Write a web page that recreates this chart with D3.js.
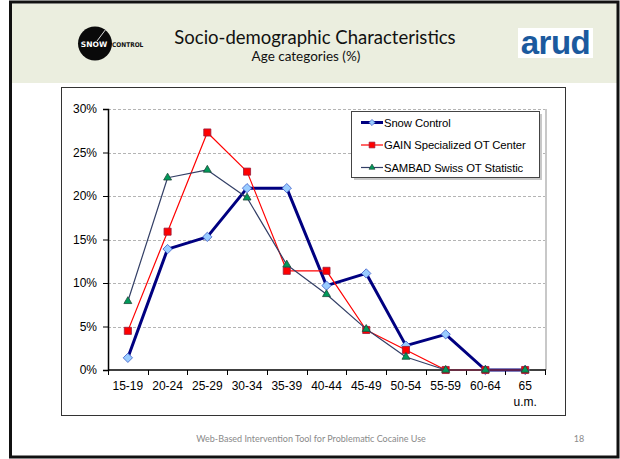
<!DOCTYPE html>
<html>
<head>
<meta charset="utf-8">
<script src="https://cdn.jsdelivr.net/npm/d3@7"></script>
<style>
  html, body { margin: 0; padding: 0; background: #fff; }
  svg { display: block; }
</style>
</head>
<body>
<script>
// Age groups on the x axis ("65 u.m." wraps onto two lines)
const categories = ["15-19", "20-24", "25-29", "30-34", "35-39", "40-44",
                    "45-49", "50-54", "55-59", "60-64", "65 u.m."];

// Share of each age group (%)
const snowControl = [1.4, 13.9, 15.3, 20.9, 20.9, 9.7, 11.1, 2.8, 4.1, 0, 0];
const gainCenter  = [4.5, 15.9, 27.3, 22.8, 11.4, 11.4, 4.6, 2.3, 0, 0, 0];
const sambad      = [7.9, 22.1, 23.0, 19.8, 12.1, 8.7, 4.7, 1.5, 0, 0, 0];

const seriesNames = ["Snow Control", "GAIN Specialized OT Center", "SAMBAD Swiss OT Statistic"];
const yTicks = [0, 5, 10, 15, 20, 25, 30];

const W = 620, H = 459;
const svg = d3.select("body").append("svg").attr("width", W).attr("height", H);

// slide frame and header band
svg.append("rect").attr("x", 0).attr("y", 0).attr("width", W).attr("height", H).attr("fill", "#fff");
svg.append("rect").attr("x", 12).attr("y", 3.5).attr("width", 605).attr("height", 79.5).attr("fill", "#ebeedf");
svg.append("rect").attr("x", 10.5).attr("y", 2).attr("width", 607.5).attr("height", 455)
  .attr("fill", "none").attr("stroke", "#111").attr("stroke-width", 3);

// title block
svg.append("text").attr("x", 315).attr("y", 44).attr("text-anchor", "middle")
  .attr("font-family", "Lato, 'Open Sans', sans-serif").attr("font-size", 18.5).attr("fill", "#111")
  .text("Socio-demographic Characteristics");
svg.append("text").attr("x", 306).attr("y", 61).attr("text-anchor", "middle")
  .attr("font-family", "Lato, 'Open Sans', sans-serif").attr("font-size", 13.5).attr("fill", "#111")
  .text("Age categories (%)");

// Snow Control logo
const logo = svg.append("g");
logo.append("circle").attr("cx", 95).attr("cy", 43.5).attr("r", 17).attr("fill", "#0a0a0a");
logo.append("line").attr("x1", 106).attr("y1", 29).attr("x2", 97).attr("y2", 41)
  .attr("stroke", "#ddd").attr("stroke-width", 1);
logo.append("text").attr("x", 94).attr("y", 46.5).attr("text-anchor", "middle")
  .attr("font-family", "'DejaVu Sans', sans-serif").attr("font-weight", "bold")
  .attr("font-size", 7.5).attr("fill", "#fff").text("SNOW");
logo.append("text").attr("x", 112).attr("y", 46.5)
  .attr("font-family", "'DejaVu Sans Condensed', 'DejaVu Sans', sans-serif").attr("font-weight", "bold")
  .attr("font-size", 6.5).attr("fill", "#111").text("CONTROL");

// arud logo
svg.append("rect").attr("x", 518).attr("y", 28).attr("width", 75).attr("height", 30).attr("fill", "#fff");
svg.append("text").attr("x", 555.5).attr("y", 54).attr("text-anchor", "middle")
  .attr("font-family", "'Liberation Sans', Arial, sans-serif").attr("font-weight", "bold")
  .attr("font-size", 33).attr("letter-spacing", -0.5).attr("fill", "#1b5a9e").text("arud");

// chart box
svg.append("rect").attr("x", 61.5).attr("y", 87.5).attr("width", 504).attr("height", 328)
  .attr("fill", "#fff").attr("stroke", "#333").attr("stroke-width", 1);

// footer
svg.append("text").attr("x", 311).attr("y", 442).attr("text-anchor", "middle")
  .attr("font-family", "Lato, 'Open Sans', sans-serif").attr("font-size", 9).attr("fill", "#8a8a8a")
  .text("Web-Based Intervention Tool for Problematic Cocaine Use");
svg.append("text").attr("x", 579).attr("y", 442).attr("text-anchor", "middle")
  .attr("font-family", "Lato, 'Open Sans', sans-serif").attr("font-size", 9).attr("fill", "#8a8a8a")
  .text("18");

// plot area
const plot = { left: 108, right: 545, top: 109, bottom: 370 };
const x = d3.scaleBand().domain(categories).range([plot.left, plot.right]);
const y = d3.scaleLinear().domain([0, 30]).range([plot.bottom, plot.top]);
const cx = c => x(c) + x.bandwidth() / 2;

const font = "'Liberation Sans', Arial, sans-serif";

// plot-area border on the right
svg.append("line").attr("x1", plot.right + 1).attr("x2", plot.right + 1)
  .attr("y1", plot.top).attr("y2", plot.bottom).attr("stroke", "#c8c8c8").attr("stroke-width", 2);

// dashed gridlines
svg.append("g").selectAll("line").data(yTicks.filter(t => t > 0)).join("line")
  .attr("x1", plot.left).attr("x2", plot.right)
  .attr("y1", d => Math.round(y(d)) + 0.5).attr("y2", d => Math.round(y(d)) + 0.5)
  .attr("stroke", "#b4b4b4").attr("stroke-width", 1).attr("stroke-dasharray", "3,2");

// y axis
const yAxis = svg.append("g").attr("transform", `translate(${plot.left},0)`)
  .call(d3.axisLeft(y).tickValues(yTicks).tickSize(5).tickPadding(6).tickFormat(d => d + "%"));
yAxis.select(".domain").attr("stroke", "#000").attr("stroke-width", 1.5);
yAxis.selectAll(".tick line").attr("stroke", "#000");
yAxis.selectAll("text").attr("font-family", font).attr("font-size", 12).attr("fill", "#000");

// x axis: ticks at band boundaries, labels at band centres
const xAxisG = svg.append("g").attr("transform", `translate(0,${plot.bottom})`);
xAxisG.append("line").attr("x1", plot.left).attr("x2", plot.right + 1)
  .attr("stroke", "#000").attr("stroke-width", 1.5);
const edges = categories.map(c => x(c)).concat([plot.right]);
xAxisG.selectAll("line.tk").data(edges).join("line").attr("class", "tk")
  .attr("x1", d => Math.round(d) + 0.5).attr("x2", d => Math.round(d) + 0.5)
  .attr("y1", 0).attr("y2", 5).attr("stroke", "#000");
const xl = xAxisG.selectAll("text").data(categories).join("text")
  .attr("x", d => cx(d)).attr("y", 20).attr("text-anchor", "middle")
  .attr("font-family", font).attr("font-size", 12).attr("fill", "#000");
xl.each(function(d) {
  const parts = d.split(" ");
  d3.select(this).selectAll("tspan").data(parts).join("tspan")
    .attr("x", cx(d)).attr("dy", (p, i) => i === 0 ? 0 : 16).text(p => p);
});

// series definitions
const series = [
  { name: seriesNames[0], values: snowControl, line: "#000080", width: 3, marker: "diamond",
    fill: "#99ccff", stroke: "#3b5bc8" },
  { name: seriesNames[1], values: gainCenter, line: "#ff0000", width: 1.2, marker: "square",
    fill: "#ff0000", stroke: "#9a1a3a" },
  { name: seriesNames[2], values: sambad, line: "#333f66", width: 1.2, marker: "triangle",
    fill: "#009a5a", stroke: "#1e4a3a" }
];

function markerPath(type, s) {
  if (type === "diamond") return d3.symbol(d3.symbolDiamond2, s * s * 0.5)();
  if (type === "square") return d3.symbol(d3.symbolSquare2, s * s)();
  return d3.symbol(d3.symbolTriangle2, s * s * 0.45)();
}

const lineGen = d3.line().x(d => cx(d.c)).y(d => y(d.v));

series.forEach(s => {
  const pts = categories.map((c, i) => ({ c, v: s.values[i] }));
  const g = svg.append("g");
  g.append("path").datum(pts).attr("d", lineGen).attr("fill", "none")
    .attr("stroke", s.line).attr("stroke-width", s.width).attr("stroke-linejoin", "round");
  g.selectAll("path.m").data(pts).join("path").attr("class", "m")
    .attr("transform", d => `translate(${cx(d.c)},${y(d.v)})`)
    .attr("d", markerPath(s.marker, s.marker === "diamond" ? 10.5 : (s.marker === "square" ? 8 : 10)))
    .attr("fill", s.fill).attr("stroke", s.stroke).attr("stroke-width", 0.8);
});

// legend
const lg = { x: 351, y: 111, w: 188, h: 66 };
svg.append("rect").attr("x", lg.x + 3).attr("y", lg.y + 3).attr("width", lg.w).attr("height", lg.h)
  .attr("fill", "#c8c8c8");
svg.append("rect").attr("x", lg.x + 0.5).attr("y", lg.y + 0.5).attr("width", lg.w).attr("height", lg.h)
  .attr("fill", "#fff").attr("stroke", "#444").attr("stroke-width", 1);
series.forEach((s, i) => {
  const yy = lg.y + 11.5 + i * 22.5;
  const g = svg.append("g");
  g.append("line").attr("x1", lg.x + 10).attr("x2", lg.x + 32).attr("y1", yy).attr("y2", yy)
    .attr("stroke", s.line).attr("stroke-width", s.width);
  g.append("path").attr("transform", `translate(${lg.x + 21},${yy})`)
    .attr("d", markerPath(s.marker, s.marker === "diamond" ? 7 : (s.marker === "square" ? 6.5 : 7.5)))
    .attr("fill", s.fill).attr("stroke", s.stroke).attr("stroke-width", 0.7);
  g.append("text").attr("x", lg.x + 33).attr("y", yy + 4)
    .attr("font-family", font).attr("font-size", 11.3).attr("letter-spacing", -0.1).attr("fill", "#000")
    .text(s.name);
});
</script>
</body>
</html>
